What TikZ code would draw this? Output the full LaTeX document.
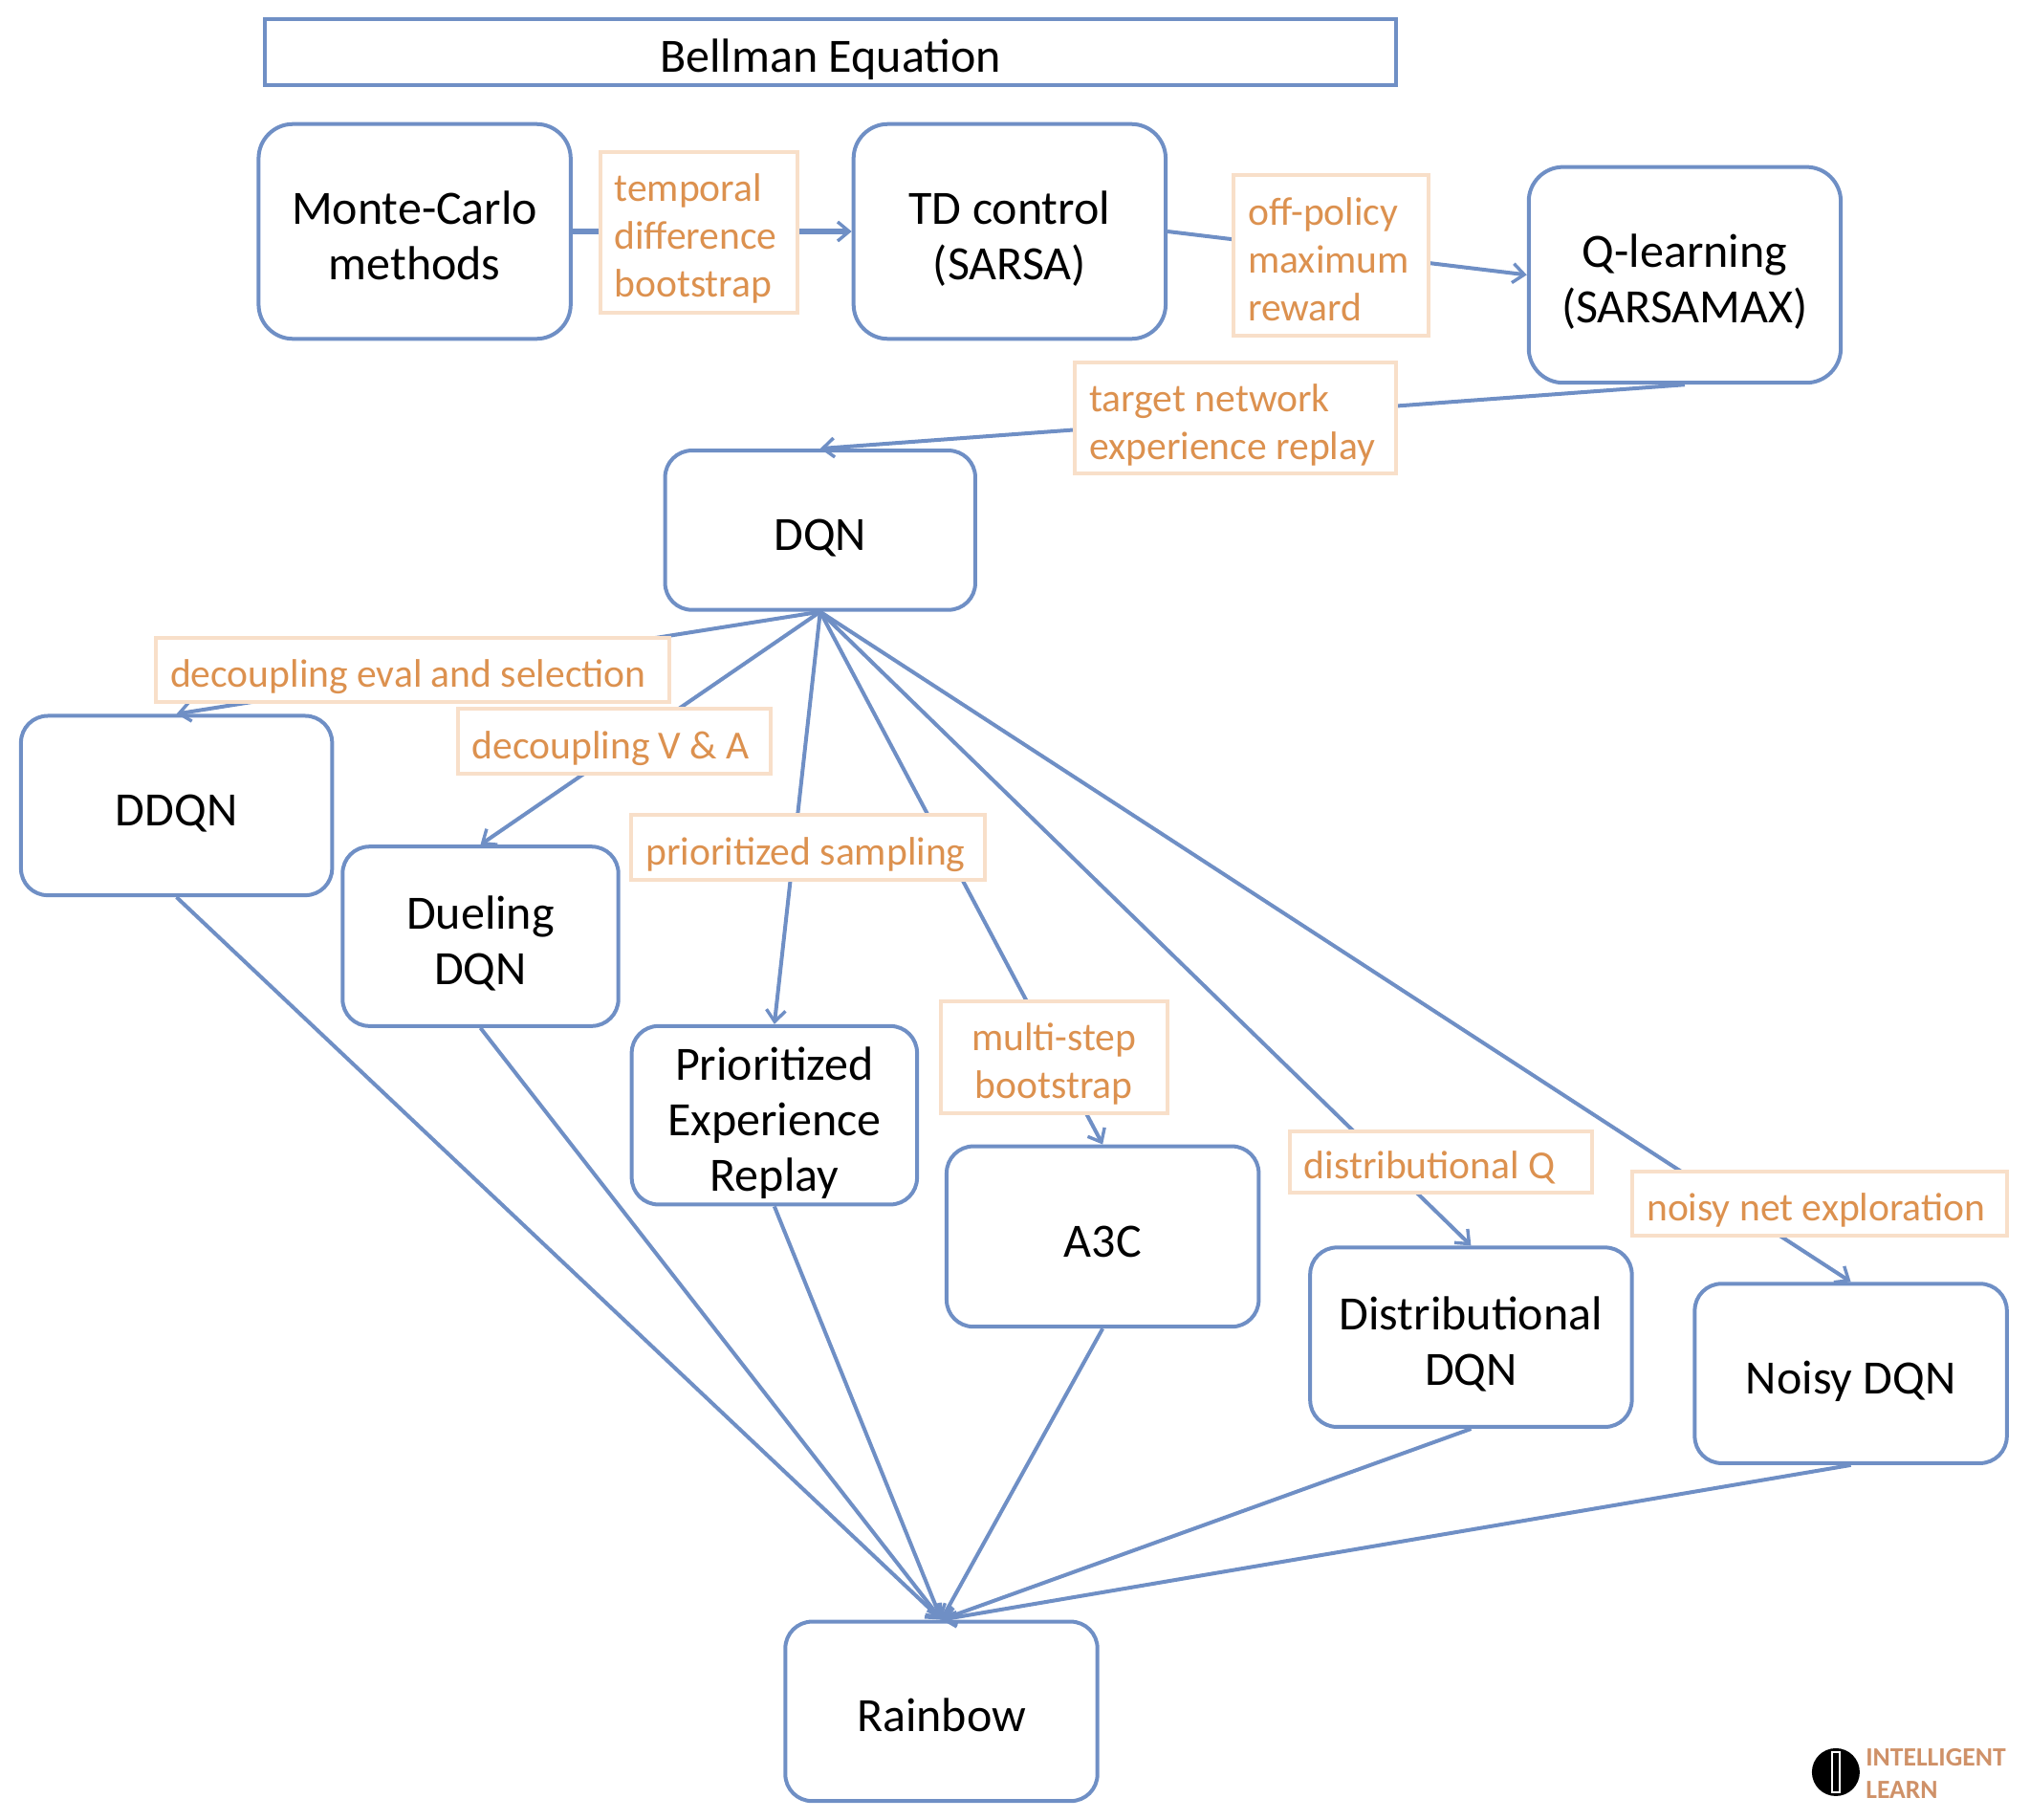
\documentclass[tikz,border=0pt]{standalone}
\usepackage{fontspec}
\setmainfont{Carlito}
\usetikzlibrary{arrows.meta}
\definecolor{flowblue}{HTML}{6F8FC5}
\definecolor{tagline}{HTML}{F8DFC9}
\definecolor{tagtext}{HTML}{DC914F}
\definecolor{logotext}{HTML}{CF9168}
\tikzset{
  algo/.style={draw=flowblue,line width=2pt,rounded corners=14pt,align=flush center,inner sep=0pt,
    font=\fontsize{25}{29}\selectfont,text=black,
    execute at begin node={\rule{0pt}{27.4pt}},execute at end node={\rule[-6pt]{0pt}{0pt}}},
  tag/.style={draw=tagline,fill=white,line width=2pt,align=flush left,inner ysep=0pt,inner xsep=7.5pt,
    font=\fontsize{20.8}{25}\selectfont,text=tagtext,
    execute at begin node={\rule{0pt}{23pt}},execute at end node={\rule[-5pt]{0pt}{0pt}}},
  flow/.style={draw=flowblue,line width=2pt,-{Straight Barb[length=6pt,width=10pt,line width=1.7pt]}}
}
\begin{document}
\begin{tikzpicture}[x=0.499pt,y=-0.499pt]
\useasboundingbox (0,0) rectangle (2127.3,1906.8);
\node[algo,rounded corners=0pt,text width=591.3,minimum height=34.4] (bellman) at (870.5,54.5) {Bellman Equation};
\node[algo,rounded corners=18pt,text width=163.2,minimum height=112.3] (mc) at (434.5,242.5) {Monte-Carlo\\methods};
\node[algo,rounded corners=18pt,text width=163.2,minimum height=112.3] (td) at (1058,242.5) {TD control\\(SARSA)};
\node[algo,rounded corners=18pt,text width=163.2,minimum height=112.8] (qlearn) at (1765.5,288) {Q-learning\\(SARSAMAX)};
\node[algo,text width=162.2,minimum height=83.3] (dqn) at (859.5,555.5) {DQN};
\node[algo,text width=162.7,minimum height=93.8] (ddqn) at (185,844) {DDQN};
\node[algo,text width=144.2,minimum height=93.8] (dueling) at (503.5,981) {Dueling\\DQN};
\node[algo,text width=149.2,minimum height=93.3] (per) at (811.5,1168.5) {Prioritized\\Experience\\Replay};
\node[algo,text width=163.2,minimum height=94.3] (atc) at (1155.5,1295.5) {A3C};
\node[algo,text width=168.2,minimum height=93.8] (dist) at (1541.5,1401) {Distributional\\DQN};
\node[algo,text width=163.2,minimum height=93.8] (noisy) at (1939.5,1439) {Noisy DQN};
\node[algo,text width=163.2,minimum height=93.8] (rainbow) at (986.5,1793) {Rainbow};

\draw[flow,line width=2.6pt] (mc.east) -- (td.west);
\draw[flow] (td.east) -- (qlearn.west);
\draw[flow] (qlearn.south) -- (dqn.north);
\draw[flow] (dqn.south) -- (ddqn.north);
\draw[flow] (dqn.south) -- (dueling.north);
\draw[flow] (dqn.south) -- (per.north);
\draw[flow] (dqn.south) -- (atc.north);
\draw[flow] (dqn.south) -- (dist.north);
\draw[flow] (dqn.south) -- (noisy.north);
\draw[flow] (ddqn.south) -- (rainbow.north);
\draw[flow] (dueling.south) -- (rainbow.north);
\draw[flow] (per.south) -- (rainbow.north);
\draw[flow] (atc.south) -- (rainbow.north);
\draw[flow] (dist.south) -- (rainbow.north);
\draw[flow] (noisy.south) -- (rainbow.north);

\node[tag,text width=88,minimum height=84] (tagtd) at (732,243) {temporal\\difference\\bootstrap};
\node[tag,text width=87,minimum height=84] (tagoff) at (1395,268) {off-policy\\maximum\\reward};
\node[tag,text width=153,minimum height=58] (tagreplay) at (1295,438) {target network\\experience replay};
\node[tag,text width=253.5,minimum height=33.5] (tagdouble) at (432.5,701.5) {decoupling eval and selection};
\node[tag,text width=148.5,minimum height=34] (tagduel) at (643.5,777) {decoupling V \& A};
\node[tag,text width=170,minimum height=34] (tagprio) at (847,888) {prioritized sampling};
\node[tag,align=flush center,text width=103.5,minimum height=58.5] (tagmulti) at (1104.5,1107.5) {multi-step\\bootstrap};
\node[tag,text width=143,minimum height=32] (tagdist) at (1510,1217) {distributional Q};
\node[tag,text width=181,minimum height=33.5] (tagnoisy) at (1907,1261.5) {noisy net exploration};

\node[circle,fill=black,minimum size=25,inner sep=0pt] (logo) at (1923.8,1856.7) {};
\node[draw=white,line width=1pt,fill=black,minimum width=4,minimum height=21,inner sep=0pt] (logobar) at (logo) {};
\node[anchor=north west,align=left,inner sep=0pt,text=logotext,font=\fontsize{13.8}{17}\bfseries\selectfont] (logotitle) at (1954.9,1832) {INTELLIGENT\\LEARN};
\end{tikzpicture}
\end{document}
